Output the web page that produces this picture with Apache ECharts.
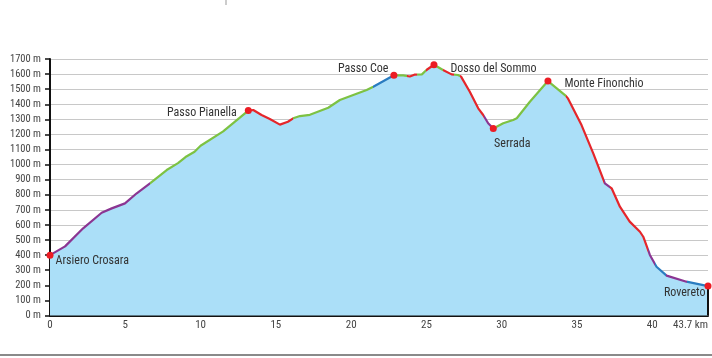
<!DOCTYPE html>
<html>
<head>
<meta charset="utf-8">
<style>
html,body{margin:0;padding:0;background:#fff;}
#chart{width:712px;height:358px;}
</style>
<script src="https://cdn.jsdelivr.net/npm/echarts@6/dist/echarts.min.js"></script>
</head>
<body>
<div id="chart"></div>
<script>
// ---- data ----
const profileKm = [0,1.0,2.2,3.43,4.1,4.98,5.76,6.64,7.75,8.5,9.0,9.6,10.0,11.5,13.17,13.5,14.05,14.6,15.27,15.8,16.15,16.6,17.26,18.48,19.25,20.14,21.03,21.47,22.84,23.46,23.9,24.2,24.7,25.0,25.5,26.1,26.67,27.1,27.3,27.88,28.44,28.77,29.1,29.44,30.1,30.76,31.0,31.87,33.07,34.2,34.4,35.3,36.08,36.85,37.3,37.85,38.5,39.18,39.4,39.84,40.28,40.95,42.27,43.7];
const profileElev = [400,458,578,681,710,743,810,876,964,1010,1050,1085,1125,1220,1358,1362,1329,1302,1265,1284,1307,1322,1330,1377,1428,1461,1494,1516,1592,1592,1584,1596,1598,1627,1662,1627,1598,1594,1583,1483,1373,1329,1274,1240,1274,1296,1307,1417,1554,1461,1439,1262,1075,876,843,721,622,555,522,401,323,264,224,195];

const placeNames = ['Arsiero Crosara','Passo Pianella','Passo Coe','Dosso del Sommo','Serrada','Monte Finonchio','Rovereto'];
const placeKm    = [0,13.17,22.84,25.5,29.44,33.07,43.7];
const placeElev  = [400,1358,1592,1662,1240,1554,195];

// gradient segments (km boundaries) and colour class of each segment
const segmentStarts = [0,6.64,13.17,16.15,21.47,22.84,23.7,24.4,25.0,25.5,26.1,26.8,27.2,28.8,29.44,34.3,36.8,37.2,39.7,40.2,40.9,42.3];
const segmentClass  = ['p','g','r','g','b','g','r','g','r','g','r','g','r','p','g','r','p','r','p','b','p','b'];

const yTicks = [0,100,200,300,400,500,600,700,800,900,1000,1100,1200,1300,1400,1500,1600,1700];
const xMajorTicks = [0,5,10,15,20,25,30,35,40];
const xMinorTicks = [0,1,2,3,4,5,6,7,8,9,10,11,12,13,14,15,16,17,18,19,20,21,22,23,24,25,26,27,28,29,30,31,32,33,34,35,36,37,38,39,40,41,42,43];
const xLabelValues = [0,5,10,15,20,25,30,35,40,43.7];
const totalKm = 43.7;

// ---- styles ----
const COLORS = {p:'#8b3592', g:'#7dc243', r:'#e5262b', b:'#2a7cc0'};
const FONT = '"Roboto Condensed","Liberation Sans Narrow",sans-serif';

const pieces = segmentStarts.map((s,i)=>{
  const e = i < segmentStarts.length-1 ? segmentStarts[i+1] : totalKm + 1;
  return {gte:s, lt:e, color:COLORS[segmentClass[i]]};
});

const labelPos = {
  'Arsiero Crosara': {position:'right', distance:2, offset:[0,6]},
  'Passo Pianella': {position:'left', distance:8, offset:[0,2]},
  'Passo Coe': {position:'left', distance:2, offset:[0,-6]},
  'Dosso del Sommo': {position:'right', distance:13, offset:[0,4]},
  'Serrada': {position:'bottom', distance:6, offset:[19,0]},
  'Monte Finonchio': {position:'right', distance:13, offset:[0,3]},
  'Rovereto': {position:'left', distance:-1, offset:[0,7]}
};

const chart = echarts.init(document.getElementById('chart'), null, {renderer:'canvas'});
const option = {
  animation:false,
  textStyle:{fontFamily:FONT},
  grid:{left:50, right:4, top:59, bottom:42.5, containLabel:false},
  xAxis:[{
    type:'value', min:0, max:totalKm, interval:5,
    axisLine:{show:true, lineStyle:{color:'#111', width:2}},
    axisTick:{show:true, inside:true, length:3, customValues:xMinorTicks, lineStyle:{color:'#111', width:1.5}},
    axisLabel:{show:true, customValues:xLabelValues, margin:4, fontSize:11, color:'#444', fontFamily:FONT,
      alignMaxLabel:'right',
      formatter:(v)=> Math.abs(v-totalKm)<1e-6 ? totalKm.toFixed(1)+' km' : String(v)},
    splitLine:{show:false}
  },{
    type:'value', min:0, max:totalKm, interval:5, position:'bottom',
    axisLine:{show:false},
    axisTick:{show:true, inside:true, length:6, customValues:xMajorTicks, lineStyle:{color:'#111', width:1.5}},
    axisLabel:{show:false},
    splitLine:{show:false}
  }],
  yAxis:{
    type:'value', min:0, max:1700, interval:100,
    axisLine:{show:true, lineStyle:{color:'#111', width:2}},
    axisTick:{show:true, length:5, lineStyle:{color:'#111', width:1.5}},
    axisLabel:{formatter:(v)=> v + ' m', fontSize:10.5, color:'#444', margin:9, fontFamily:FONT},
    splitLine:{show:true, lineStyle:{color:'#c8c8c8', width:1}}
  },
  visualMap:{type:'piecewise', show:false, dimension:0, seriesIndex:0, pieces:pieces},
  series:[{
    type:'line',
    data: profileKm.map((k,i)=>[k, profileElev[i]]),
    showSymbol:false, symbol:'none', smooth:false,
    lineStyle:{width:2.2},
    areaStyle:{color:'#abdff8', opacity:1, origin:'start'},
    markLine:{
      silent:true, symbol:['none','none'],
      lineStyle:{color:'#111', width:2, type:'solid'}, label:{show:false},
      data:[[{coord:[totalKm,0]},{coord:[totalKm, profileElev[profileElev.length-1]]}]]
    },
    z:2
  },{
    type:'scatter',
    data: placeNames.map((n,i)=>({
      name:n, value:[placeKm[i], placeElev[i]],
      label:Object.assign({show:true, formatter:'{b}', fontSize:12, color:'#333', fontFamily:FONT}, labelPos[n])
    })),
    symbol:'circle', symbolSize:7,
    itemStyle:{color:'#ec1c24', opacity:1},
    z:5
  }],
  graphic:[
    {type:'line', shape:{x1:0,y1:355,x2:712,y2:355}, style:{stroke:'#8a8a8a', lineWidth:2}},
    {type:'line', shape:{x1:226,y1:0,x2:226,y2:5}, style:{stroke:'#999', lineWidth:1}}
  ]
};
chart.setOption(option);
</script>
</body>
</html>
